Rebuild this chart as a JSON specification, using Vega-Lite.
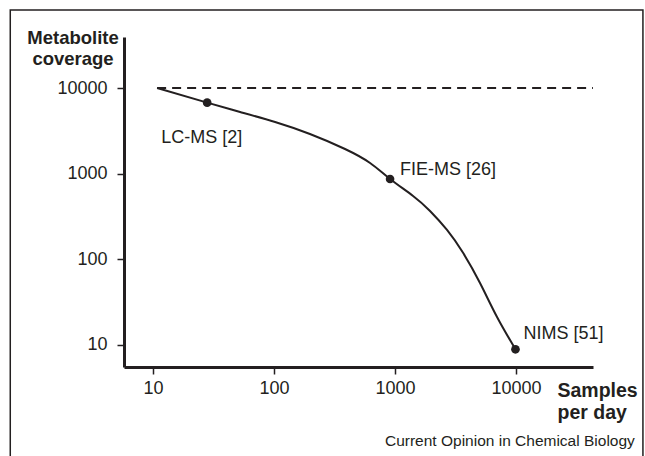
{
  "$schema": "https://vega.github.io/schema/vega-lite/v6.json",
  "width": 469,
  "height": 330,
  "autosize": {"type": "none"},
  "padding": {"left": 124, "top": 37, "right": 52, "bottom": 89},
  "background": "white",
  "config": {
    "view": {"stroke": null},
    "font": "Liberation Sans",
    "text": {"font": "Liberation Sans", "color": "#231f20"}
  },
  "datasets": {
    "curve": [
      {"samples": 10.8, "coverage": 10000},
      {"samples": 28, "coverage": 6750},
      {"samples": 52.4, "coverage": 5248},
      {"samples": 102, "coverage": 4010},
      {"samples": 198, "coverage": 2904},
      {"samples": 386, "coverage": 1941},
      {"samples": 622, "coverage": 1332},
      {"samples": 910, "coverage": 867},
      {"samples": 1410, "coverage": 549},
      {"samples": 1947, "coverage": 367},
      {"samples": 2690, "coverage": 220},
      {"samples": 3650, "coverage": 119},
      {"samples": 5040, "coverage": 52.9},
      {"samples": 6970, "coverage": 21.2},
      {"samples": 9900, "coverage": 8.9}
    ],
    "points": [
      {"method": "LC-MS [2]", "samples": 28, "coverage": 6750},
      {"method": "FIE-MS [26]", "samples": 910, "coverage": 867},
      {"method": "NIMS [51]", "samples": 9900, "coverage": 8.9}
    ],
    "limit": [
      {"samples": 10.8, "coverage": 10000},
      {"samples": 43300, "coverage": 10000}
    ],
    "source": [
      {"caption": "Current Opinion in Chemical Biology"}
    ]
  },
  "layer": [
    {
      "data": {"values": [{}]},
      "mark": {"type": "rect", "fill": null, "stroke": "#231f20", "strokeWidth": 1.5, "clip": false},
      "encoding": {
        "x": {"datum": 0.66, "type": "quantitative", "scale": {"type": "log", "domain": [5.75, 43300], "nice": false, "zero": false}},
        "x2": {"datum": 112000},
        "y": {"datum": 81300, "type": "quantitative", "scale": {"type": "log", "domain": [5.53, 39400], "nice": false, "zero": false}},
        "y2": {"datum": 0.3}
      }
    },
    {
      "data": {"name": "source"},
      "mark": {"type": "text", "align": "right", "baseline": "alphabetic", "fontSize": 15.5, "color": "#231f20", "clip": false},
      "encoding": {
        "x": {"datum": 96000, "type": "quantitative"},
        "y": {"datum": 0.662, "type": "quantitative"},
        "text": {"field": "caption"}
      }
    },
    {
      "data": {"name": "limit"},
      "mark": {"type": "line", "color": "#231f20", "strokeWidth": 2, "strokeDash": [9, 6]},
      "encoding": {
        "x": {"field": "samples", "type": "quantitative"},
        "y": {"field": "coverage", "type": "quantitative"}
      }
    },
    {
      "data": {"name": "curve"},
      "mark": {"type": "line", "color": "#231f20", "strokeWidth": 2, "interpolate": "natural"},
      "encoding": {
        "x": {
          "field": "samples", "type": "quantitative",
          "scale": {"type": "log", "domain": [5.75, 43300], "nice": false, "zero": false},
          "axis": {
            "values": [10, 100, 1000, 10000], "format": "d", "grid": false,
            "domainColor": "#231f20", "domainWidth": 3, "tickColor": "#231f20", "tickWidth": 1.5, "tickSize": 7,
            "labelFontSize": 18, "labelColor": "#231f20", "labelPadding": 5, "labelFont": "Liberation Sans",
            "title": ["Samples", "per day"], "titleFontSize": 19.5, "titleFontWeight": "bold", "titleColor": "#231f20",
            "titleFont": "Liberation Sans",
            "titleAlign": "left", "titleAnchor": null, "titleBaseline": "alphabetic", "titleX": 433, "titleY": 29, "titleLineHeight": 22
          }
        },
        "y": {
          "field": "coverage", "type": "quantitative",
          "scale": {"type": "log", "domain": [5.53, 39400], "nice": false, "zero": false},
          "axis": {
            "values": [10, 100, 1000, 10000], "format": "d", "grid": false,
            "domainColor": "#231f20", "domainWidth": 3, "tickColor": "#231f20", "tickWidth": 1.5, "tickSize": 7,
            "labelFontSize": 18, "labelColor": "#231f20", "labelPadding": 10, "labelFont": "Liberation Sans",
            "title": ["Metabolite", "coverage"], "titleFontSize": 18.5, "titleFontWeight": "bold", "titleColor": "#231f20",
            "titleFont": "Liberation Sans",
            "titleAngle": 0, "titleAlign": "center", "titleAnchor": null, "titleBaseline": "alphabetic",
            "titleX": -51.5, "titleY": 6, "titleLineHeight": 21
          }
        }
      }
    },
    {
      "data": {"name": "points"},
      "mark": {"type": "circle", "color": "#231f20", "opacity": 1, "size": 75},
      "encoding": {
        "x": {"field": "samples", "type": "quantitative"},
        "y": {"field": "coverage", "type": "quantitative"}
      }
    },
    {
      "data": {"name": "points"},
      "transform": [{"filter": "datum.method === 'LC-MS [2]'"}],
      "mark": {"type": "text", "align": "left", "baseline": "alphabetic", "fontSize": 18, "dx": -46, "dy": 40, "color": "#231f20"},
      "encoding": {
        "x": {"field": "samples", "type": "quantitative"},
        "y": {"field": "coverage", "type": "quantitative"},
        "text": {"field": "method"}
      }
    },
    {
      "data": {"name": "points"},
      "transform": [{"filter": "datum.method === 'FIE-MS [26]'"}],
      "mark": {"type": "text", "align": "left", "baseline": "alphabetic", "fontSize": 18, "dx": 10, "dy": -3.5, "color": "#231f20"},
      "encoding": {
        "x": {"field": "samples", "type": "quantitative"},
        "y": {"field": "coverage", "type": "quantitative"},
        "text": {"field": "method"}
      }
    },
    {
      "data": {"name": "points"},
      "transform": [{"filter": "datum.method === 'NIMS [51]'"}],
      "mark": {"type": "text", "align": "left", "baseline": "alphabetic", "fontSize": 18, "dx": 8, "dy": -10, "color": "#231f20"},
      "encoding": {
        "x": {"field": "samples", "type": "quantitative"},
        "y": {"field": "coverage", "type": "quantitative"},
        "text": {"field": "method"}
      }
    }
  ]
}
